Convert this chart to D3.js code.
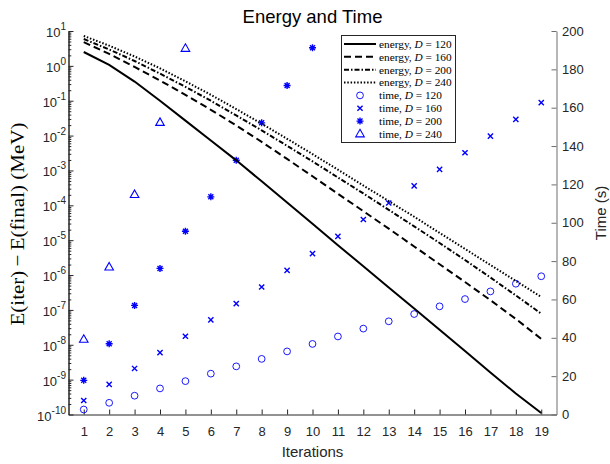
<!DOCTYPE html>
<html>
<head>
<meta charset="utf-8">
<script src="https://cdn.jsdelivr.net/npm/d3@7"></script>
<style>
  html, body { margin: 0; padding: 0; background: #ffffff; }
  svg { display: block; }
  .tick-label { font-family: "Liberation Sans", Arial, sans-serif; font-size: 13px; fill: #262626; }
  .latex { font-family: "Liberation Serif", "Times New Roman", serif; fill: #000; }
</style>
</head>
<body>
<svg id="chart" width="610" height="464"></svg>
<script>
// Iteration numbers shared by every series
const iterations = [1, 2, 3, 4, 5, 6, 7, 8, 9, 10, 11, 12, 13, 14, 15, 16, 17, 18, 19];

// E(iter) - E(final) in MeV, one array per basis size D
const energyD120 = [2.5, 1.07, 0.355, 0.1, 0.0269, 7.2e-3, 1.95e-3, 4.9e-4, 1.2e-4, 2.95e-5,
                    7.2e-6, 1.78e-6, 4.4e-7, 1.1e-7, 2.7e-8, 6.6e-9, 1.6e-9, 4.0e-10, 1.1e-10];
const energyD160 = [4.8, 2.2, 0.93, 0.38, 0.148, 0.055, 0.0195, 6.6e-3, 2.14e-3, 6.8e-4,
                    2.14e-4, 6.8e-5, 2.14e-5, 6.6e-6, 2.04e-6, 6.3e-7, 1.9e-7, 5.5e-8, 1.48e-8];
const energyD200 = [5.9, 2.95, 1.38, 0.60, 0.25, 0.10, 0.038, 0.0141, 5.1e-3, 1.82e-3,
                    6.3e-4, 2.19e-4, 7.4e-5, 2.5e-5, 8.3e-6, 2.7e-6, 8.5e-7, 2.6e-7, 7.8e-8];
const energyD240 = [7.2, 3.8, 1.86, 0.85, 0.36, 0.148, 0.0575, 0.0219, 8.1e-3, 2.95e-3,
                    1.05e-3, 3.7e-4, 1.32e-4, 4.7e-5, 1.62e-5, 5.6e-6, 1.95e-6, 6.8e-7, 2.34e-7];

// Cumulative wall time in seconds (larger bases stop being recorded earlier)
const timeD120 = [2.6, 6.1, 9.8, 13.6, 17.4, 21.3, 25.1, 29.0, 32.9, 36.8,
                  40.7, 44.8, 48.6, 52.4, 56.4, 60.2, 64.2, 68.2, 72.1];
const timeD160 = [7.3, 15.7, 24.0, 32.3, 40.8, 49.3, 57.8, 66.5, 75.2, 83.9,
                  92.9, 101.7, 110.3, 119.2, 127.8, 136.5, 145.2, 153.9, 162.6];
const timeD200 = [17.8, 36.9, 56.9, 76.2, 95.6, 113.5, 132.6, 152.1, 171.6, 191.3];
const timeD240 = [39.2, 76.9, 114.7, 152.3, 190.9];

// Axis ticks
const energyExponents = [-10, -9, -8, -7, -6, -5, -4, -3, -2, -1, 0, 1];
const timeTicks = [0, 20, 40, 60, 80, 100, 120, 140, 160, 180, 200];

const basisSizes = [120, 160, 200, 240];
const energySeries = [energyD120, energyD160, energyD200, energyD240];
const timeSeries = [timeD120, timeD160, timeD200, timeD240];

const svg = d3.select("#chart");
const axisColor = "#262626";
const markerColor = "#0000ff";

const plot = { left: 68.5, right: 556.5, top: 31, bottom: 414.5 };

const x = d3.scaleLinear().domain([0.4, 19.6]).range([plot.left, plot.right]);
const yE = d3.scaleLog().domain([1e-10, 10]).range([plot.bottom, plot.top]);
const yT = d3.scaleLinear().domain([0, 200]).range([plot.bottom, plot.top]);

// ---- line styles and marker shapes ----
const dashStyles = [null, "7,4", "5,2,1.5,2", "1.5,1.8"];
const markerPaths = [
  null, // circle drawn as <circle>
  "M-2.6,-2.6L2.6,2.6M-2.6,2.6L2.6,-2.6",
  "M-3.5,0H3.5M0,-3.5V3.5M-2.5,-2.5L2.5,2.5M-2.5,2.5L2.5,-2.5",
  "M0,-4.6L4.3,2.9L-4.3,2.9Z"
];

function drawMarker(g, k, cx, cy) {
  if (k === 0) {
    g.append("circle").attr("cx", cx).attr("cy", cy).attr("r", 3.4)
      .attr("fill", "none").attr("stroke", markerColor).attr("stroke-width", 0.9);
  } else {
    g.append("path").attr("d", markerPaths[k])
      .attr("transform", `translate(${cx},${cy})`)
      .attr("fill", "none").attr("stroke", markerColor)
      .attr("stroke-width", k === 3 ? 1.1 : 1.4);
  }
}

// ---- axes ----
const bottomAxis = svg.append("g")
  .attr("transform", `translate(0,${plot.bottom})`)
  .call(d3.axisBottom(x).tickValues(iterations).tickSize(-5).tickSizeOuter(0).tickFormat(d3.format("d")));
bottomAxis.selectAll("text").attr("class", "tick-label").attr("y", 21.5).attr("dy", null);

const leftMinor = [];
energyExponents.forEach(e => {
  if (e < 1) for (let m = 2; m <= 9; m++) leftMinor.push(m * Math.pow(10, e));
});
svg.append("g")
  .attr("transform", `translate(${plot.left},0)`)
  .call(d3.axisLeft(yE).tickValues(leftMinor).tickSize(-2.8).tickSizeOuter(0).tickFormat(""));
const leftAxis = svg.append("g")
  .attr("transform", `translate(${plot.left},0)`)
  .call(d3.axisLeft(yE).tickValues(energyExponents.map(e => Math.pow(10, e)))
        .tickSize(-5).tickSizeOuter(0).tickFormat(""));
// power-of-ten labels with superscript exponents
energyExponents.forEach(e => {
  const t = svg.append("text").attr("class", "tick-label")
    .attr("x", plot.left - 2.5).attr("y", yE(Math.pow(10, e)) + 6)
    .attr("text-anchor", "end");
  t.append("tspan").text("10");
  t.append("tspan").attr("dy", -7).attr("font-size", "10px").text(String(e));
});

const rightAxis = svg.append("g")
  .attr("transform", `translate(${plot.right},0)`)
  .call(d3.axisRight(yT).tickValues(timeTicks).tickSize(-5).tickSizeOuter(0).tickPadding(5.5));
rightAxis.selectAll("text").attr("class", "tick-label");

svg.selectAll("g line, g path.domain").attr("stroke", axisColor).attr("stroke-width", 1);
rightAxis.selectAll("path, line").attr("stroke", "#6e6e6e");

// ---- time markers (right axis) ----
const markers = svg.append("g");
timeSeries.forEach((series, k) => {
  series.forEach((t, i) => drawMarker(markers, k, x(iterations[i]), yT(t)));
});

// ---- energy convergence lines (left axis) ----
const line = d3.line().x((d, i) => x(iterations[i])).y(d => yE(d));
energySeries.forEach((series, k) => {
  svg.append("path").datum(series).attr("d", line)
    .attr("fill", "none").attr("stroke", "#000").attr("stroke-width", 2)
    .attr("stroke-dasharray", dashStyles[k]);
});

// ---- titles ----
svg.append("text").attr("x", (plot.left + plot.right) / 2).attr("y", 23)
  .attr("text-anchor", "middle")
  .style("font-family", "'Liberation Sans', Arial, sans-serif").style("font-size", "18.5px")
  .attr("fill", "#000").text("Energy and Time");

svg.append("text").attr("x", (plot.left + plot.right) / 2).attr("y", 457)
  .attr("text-anchor", "middle")
  .style("font-family", "'Liberation Sans', Arial, sans-serif").style("font-size", "15px")
  .attr("fill", "#262626").text("Iterations");

svg.append("text")
  .attr("transform", "translate(606,213) rotate(-90)")
  .attr("text-anchor", "middle")
  .style("font-family", "'Liberation Sans', Arial, sans-serif").style("font-size", "15px")
  .attr("fill", "#262626").text("Time (s)");

svg.append("text").attr("class", "latex")
  .attr("transform", "translate(24,224) rotate(-90)")
  .attr("text-anchor", "middle")
  .attr("textLength", 203).attr("lengthAdjust", "spacingAndGlyphs")
  .style("font-size", "19.5px")
  .text("E(iter)\u2009\u2212\u2009E(final) (MeV)");

// ---- legend ----
const legend = svg.append("g");
legend.append("rect").attr("x", 341.5).attr("y", 35.5).attr("width", 114).attr("height", 107)
  .attr("fill", "#fff").attr("stroke", axisColor).attr("stroke-width", 1);
const rowY = k => 44 + k * 12.85;
basisSizes.forEach((d, k) => {
  const yy = rowY(k);
  legend.append("line").attr("x1", 344).attr("x2", 376).attr("y1", yy).attr("y2", yy)
    .attr("stroke", "#000").attr("stroke-width", 2).attr("stroke-dasharray", dashStyles[k]);
  const t = legend.append("text").attr("class", "latex").attr("x", 379).attr("y", yy + 3.8)
    .style("font-size", "11.3px");
  t.append("tspan").text("energy, ");
  t.append("tspan").attr("font-style", "italic").text("D");
  t.append("tspan").text(" = " + d);
});
basisSizes.forEach((d, k) => {
  const yy = rowY(k + 4);
  drawMarker(legend, k, 360, yy);
  const t = legend.append("text").attr("class", "latex").attr("x", 379).attr("y", yy + 3.8)
    .style("font-size", "11.3px");
  t.append("tspan").text("time, ");
  t.append("tspan").attr("font-style", "italic").text("D");
  t.append("tspan").text(" = " + d);
});
</script>
</body>
</html>
